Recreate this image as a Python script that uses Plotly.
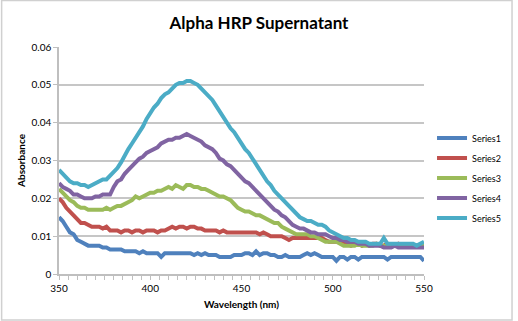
import plotly.graph_objects as go

wavelength = list(range(350, 551, 2))

series1 = [15.0, 14.0, 12.5, 11.0, 10.5, 9.0, 8.5, 8.0, 7.5, 7.5, 7.5, 7.5, 7.0, 7.0, 6.5, 6.5, 6.5, 6.5, 6.0, 6.0,
           6.0, 6.0, 5.5, 6.0, 5.5, 5.5, 5.5, 5.5, 4.5, 5.5, 5.5, 5.5, 5.5, 5.5, 5.5, 5.5, 5.5, 5.0, 5.5, 5.0,
           5.5, 5.0, 5.0, 5.0, 4.5, 4.5, 4.5, 4.5, 5.0, 5.0, 5.0, 5.5, 5.5, 5.0, 6.0, 5.0, 5.5, 5.5, 5.0, 5.0,
           4.5, 4.5, 5.0, 4.5, 4.5, 4.5, 4.5, 5.0, 5.5, 5.0, 5.5, 5.0, 4.5, 4.5, 4.5, 4.5, 3.5, 4.5, 4.5, 3.8,
           4.5, 4.5, 3.8, 4.5, 4.5, 4.5, 4.5, 4.5, 4.5, 4.5, 3.8, 4.5, 4.5, 4.5, 4.5, 4.5, 4.5, 4.5, 4.5, 4.5,
           3.5]
series2 = [20.0, 19.0, 17.5, 16.5, 15.5, 14.5, 13.5, 13.5, 13.0, 12.5, 12.5, 12.5, 12.0, 12.5, 11.5, 11.5, 11.5, 11.0, 11.5, 11.5,
           11.0, 11.5, 11.5, 11.0, 11.5, 11.5, 11.5, 11.0, 11.5, 11.5, 12.0, 12.5, 12.0, 12.5, 12.5, 12.0, 12.5, 12.5, 12.0, 12.0,
           11.5, 11.5, 11.5, 11.5, 11.0, 11.5, 11.0, 11.0, 11.0, 11.0, 11.0, 11.0, 11.0, 11.0, 11.0, 10.5, 11.0, 10.5, 10.0, 10.0,
           10.0, 10.0, 9.5, 9.0, 9.5, 9.5, 9.5, 9.5, 9.5, 9.5, 9.5, 9.5, 9.5, 9.0, 8.5, 8.5, 8.5, 8.5, 8.0, 8.0,
           7.5, 8.0, 8.0, 7.5, 8.0, 7.5, 8.0, 8.0, 7.5, 7.5, 8.0, 7.5, 7.5, 8.0, 7.5, 7.5, 7.5, 7.5, 7.5, 7.5,
           7.5]
series3 = [22.5, 21.5, 20.5, 19.5, 19.0, 18.0, 17.5, 17.5, 17.0, 17.0, 17.0, 17.0, 17.0, 17.5, 17.0, 17.5, 18.0, 18.0, 18.5, 19.0,
           19.5, 20.5, 20.0, 20.5, 21.0, 21.5, 21.5, 22.0, 22.0, 22.5, 23.0, 22.5, 23.5, 23.0, 22.5, 23.5, 23.5, 23.0, 23.0, 22.5,
           22.5, 22.0, 21.5, 21.0, 20.5, 20.5, 20.0, 19.5, 18.5, 17.5, 17.0, 16.5, 16.5, 16.0, 15.5, 15.5, 15.0, 14.5, 14.0, 13.5,
           13.5, 12.5, 12.0, 11.5, 11.0, 10.5, 10.5, 10.5, 10.5, 10.0, 10.0, 9.5, 9.0, 8.5, 8.5, 8.5, 8.5, 8.0, 7.5, 7.5,
           7.5, 7.5, 8.0, 7.5, 7.5, 7.5, 7.5, 8.0, 7.5, 7.5, 7.5, 7.5, 7.5, 7.5, 7.5, 7.5, 7.5, 7.5, 7.5, 7.5,
           7.5]
series4 = [24.0, 23.0, 22.5, 22.0, 21.0, 21.0, 20.5, 20.0, 20.0, 20.0, 20.5, 20.5, 21.0, 21.0, 21.0, 23.0, 24.5, 25.0, 26.5, 27.5,
           28.5, 29.5, 30.5, 31.0, 32.0, 32.5, 33.0, 33.5, 34.5, 35.0, 35.5, 35.5, 36.0, 36.0, 36.5, 37.0, 36.5, 36.0, 35.5, 35.0,
           34.0, 33.5, 33.0, 32.0, 30.5, 30.0, 29.0, 28.5, 27.5, 26.5, 25.5, 24.5, 24.0, 23.0, 22.0, 21.0, 20.0, 19.0, 18.0, 17.0,
           16.5, 15.5, 15.0, 14.0, 13.0, 12.5, 12.0, 12.0, 11.5, 11.0, 11.0, 10.5, 10.5, 10.5, 10.0, 9.5, 9.5, 9.0, 9.0, 8.5,
           8.5, 8.5, 8.0, 8.0, 8.0, 7.5, 7.5, 7.5, 7.5, 7.0, 7.0, 7.0, 7.5, 7.0, 7.0, 7.0, 7.0, 7.0, 7.0, 7.0,
           7.0]
series5 = [27.5, 26.5, 25.5, 24.5, 24.0, 24.0, 23.5, 23.5, 23.0, 23.5, 24.0, 24.5, 25.0, 25.0, 26.0, 27.0, 28.0, 29.5, 31.5, 33.0,
           34.5, 36.0, 37.5, 39.0, 41.0, 42.5, 44.0, 45.0, 46.5, 47.5, 48.0, 49.0, 50.0, 50.5, 50.5, 51.0, 51.0, 50.5, 50.0, 49.0,
           48.0, 47.0, 46.0, 44.5, 43.0, 41.5, 40.0, 38.5, 37.5, 36.0, 34.5, 33.0, 32.0, 30.5, 29.0, 27.5, 26.0, 24.5, 23.5, 22.0,
           21.0, 20.0, 19.0, 18.0, 17.0, 16.0, 15.0, 14.5, 14.0, 14.0, 13.5, 13.0, 13.0, 12.5, 11.5, 11.0, 10.5, 10.0, 9.5, 9.5,
           9.0, 9.0, 8.5, 8.5, 8.5, 8.0, 8.0, 8.0, 8.0, 9.5, 8.0, 8.0, 8.0, 8.0, 8.0, 8.0, 8.0, 8.0, 7.5, 8.0,
           8.5]

names = ["Series1", "Series2", "Series3", "Series4", "Series5"]
colors = ["#4F81BD", "#C0504D", "#9BBB59", "#8064A2", "#4BACC6"]
all_series = [series1, series2, series3, series4, series5]

y_tickvals = [0, 0.01, 0.02, 0.03, 0.04, 0.05, 0.06]
y_ticktext = ["0", "0.01", "0.02", "0.03", "0.04", "0.05", "0.06"]

fig = go.Figure()
for name, color, s in zip(names, colors, all_series):
    fig.add_trace(go.Scatter(
        x=wavelength, y=[v / 1000 for v in s], mode="lines", name=name, legendgroup=name,
        line=dict(color=color, width=4),
    ))

font_family = "Lato, Open Sans, sans-serif"
fig.update_layout(
    width=518, height=321,
    margin=dict(l=59, r=90, t=47, b=47),
    paper_bgcolor="white", plot_bgcolor="white",
    font=dict(family=font_family, color="black", size=10),
    title=dict(text="<b>Alpha HRP Supernatant</b>", x=0.5, xanchor="center",
               y=1 - 23 / 321, yanchor="middle", font=dict(size=17, family=font_family)),
    showlegend=True,
    legend=dict(x=1.022, xanchor="left", y=(274 - 178) / 227, yanchor="middle",
                font=dict(size=9, family=font_family), tracegroupgap=1,
                itemwidth=30, bgcolor="rgba(0,0,0,0)"),
    xaxis=dict(range=[350, 550], dtick=50, tick0=350, showgrid=False,
               showline=True, linecolor="#bfbfbf", linewidth=1.5,
               ticks="outside", ticklen=4, tickcolor="#bfbfbf",
               minor=dict(dtick=5, ticks="outside", ticklen=4, tickcolor="#bfbfbf", showgrid=False),
               tickfont=dict(size=10),
               title=dict(text="<b>Wavelength (nm)</b>", font=dict(size=10), standoff=8),
               zeroline=False),
    yaxis=dict(range=[0, 0.06], tickvals=y_tickvals, ticktext=y_ticktext,
               showgrid=True, gridcolor="#c6c6c6", gridwidth=1.5,
               showline=True, linecolor="#bfbfbf", linewidth=1.5,
               ticks="outside", ticklen=4, tickcolor="#bfbfbf",
               tickfont=dict(size=10),
               title=dict(text="<b>Absorbance</b>", font=dict(size=10), standoff=4),
               zeroline=False),
)

# outer chart-area border
fig.add_shape(type="rect", xref="paper", yref="paper",
              x0=-58 / 369, x1=(517 - 59) / 369, y0=-46 / 227, y1=(227 + 46.5) / 227,
              line=dict(color="#d0d0d0", width=1.5), fillcolor="rgba(0,0,0,0)", layer="below")

fig.write_html("out.html")
